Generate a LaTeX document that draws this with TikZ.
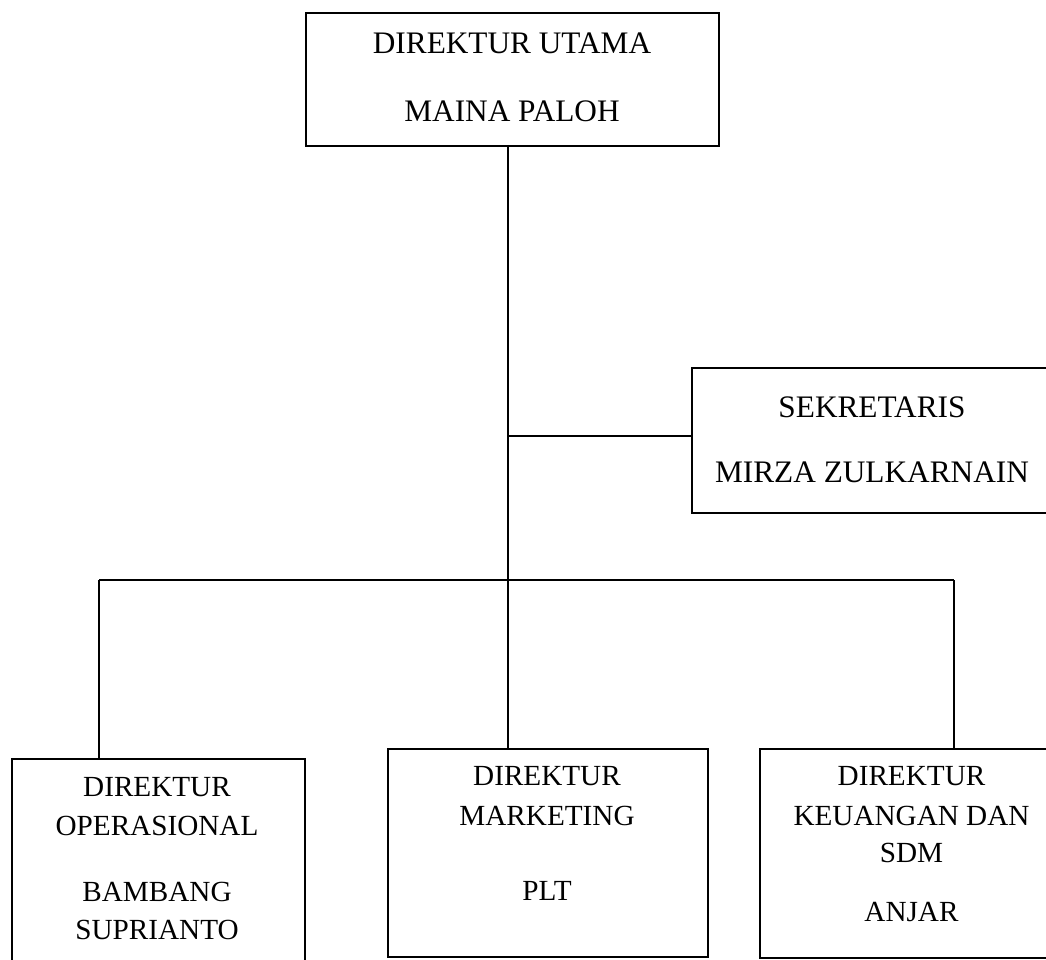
\documentclass[tikz,border=0pt]{standalone}
\usepackage{fontspec}
\setmainfont{Liberation Serif}
\begin{document}
\begin{tikzpicture}[x=1pt,y=-1pt,
  box/.style={draw=black,line width=2pt,rectangle,inner sep=0pt,anchor=north west},
  conn/.style={draw=black,line width=2pt},
  big/.style={anchor=base,inner sep=0pt,font=\fontsize{31.3}{36}\selectfont},
  small/.style={anchor=base,inner sep=0pt,font=\fontsize{29.2}{34}\selectfont}]
\useasboundingbox (0,0) rectangle (1046,960);
\clip (0,0) rectangle (1046,960);
% boxes
\node[box,minimum width=413,minimum height=133] (utama) at (305,12) {};
\node[box,minimum width=370,minimum height=145] (sek) at (691,367) {};
\node[box,minimum width=293,minimum height=230] (ops) at (11,758) {};
\node[box,minimum width=320,minimum height=208] (mkt) at (387,748) {};
\node[box,minimum width=310,minimum height=209] (keu) at (759,748) {};
% texts
\node[big] (t1) at (512,54) {DIREKTUR UTAMA};
\node[big] (t2) at (512,122) {MAINA PALOH};
\node[big] (t3) at (872,417) {SEKRETARIS};
\node[big] (t4) at (872,482) {MIRZA ZULKARNAIN};
\node[small] (t5) at (157,796) {DIREKTUR};
\node[small] (t6) at (157,835) {OPERASIONAL};
\node[small] (t7) at (157,901) {BAMBANG};
\node[small] (t8) at (157,939) {SUPRIANTO};
\node[small] (t9) at (547,785) {DIREKTUR};
\node[small] (t10) at (547,825) {MARKETING};
\node[small] (t11) at (547,900) {PLT};
\node[small] (t12) at (911.5,785) {DIREKTUR};
\node[small] (t13) at (911.5,825) {KEUANGAN DAN};
\node[small] (t14) at (911.5,862) {SDM};
\node[small] (t15) at (911.5,921) {ANJAR};
% junctions
\coordinate (top) at (508,145);
\coordinate (j1) at (508,436);
\coordinate (j2) at (508,580);
\coordinate (jl) at (99,580);
\coordinate (jr) at (954,580);
% connectors
\draw[conn] (top) -- (j2);
\draw[conn] (j1) -- (j1 -| sek.west);
\draw[conn] (jl) -- (jr);
\draw[conn] (jl) -- (jl |- ops.north);
\draw[conn] (j2) -- (j2 |- mkt.north);
\draw[conn] (jr) -- (jr |- keu.north);
\end{tikzpicture}
\end{document}
